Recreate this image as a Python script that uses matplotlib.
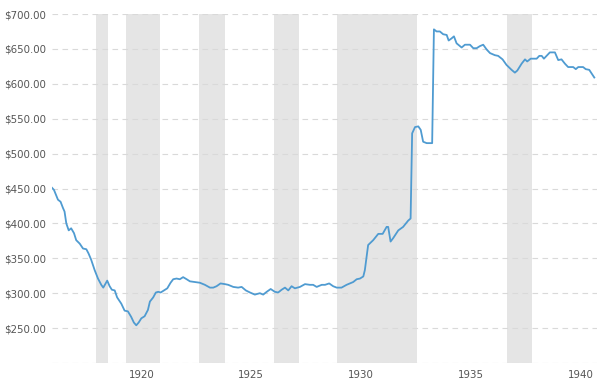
import matplotlib
matplotlib.use("Agg")
import matplotlib.pyplot as plt
from matplotlib.ticker import FixedLocator

# Decimal-year dates and inflation-adjusted gold price (USD/oz)
dates = [1916.64, 1916.73, 1916.91, 1917.03, 1917.14, 1917.21, 1917.29, 1917.40, 1917.51, 1917.64,
         1917.74, 1917.90, 1918.05, 1918.20, 1918.30, 1918.42, 1918.58, 1918.73, 1918.88, 1918.97,
         1919.06, 1919.15, 1919.26, 1919.36, 1919.49, 1919.60, 1919.79, 1919.94, 1920.09, 1920.24,
         1920.36, 1920.47, 1920.58, 1920.70, 1920.85, 1921.00, 1921.09, 1921.24, 1921.36, 1921.47,
         1921.58, 1921.73, 1921.88, 1922.03, 1922.15, 1922.30, 1922.45, 1922.60, 1922.76, 1922.91,
         1923.14, 1923.36, 1923.59, 1923.82, 1923.97, 1924.12, 1924.30, 1924.50, 1924.65, 1924.88,
         1925.10, 1925.26, 1925.45, 1925.64, 1925.86, 1926.09, 1926.24, 1926.40, 1926.58, 1926.77,
         1926.92, 1927.08, 1927.23, 1927.38, 1927.53, 1927.68, 1927.91, 1928.14, 1928.36, 1928.51,
         1928.67, 1928.90, 1929.05, 1929.24, 1929.42, 1929.58, 1929.80, 1930.03, 1930.18, 1930.33,
         1930.49, 1930.64, 1930.79, 1930.86, 1931.01, 1931.24, 1931.47, 1931.67, 1931.85, 1931.92,
         1932.03, 1932.15, 1932.38, 1932.60, 1932.83, 1932.94, 1933.01, 1933.14, 1933.29, 1933.40,
         1933.51, 1933.67, 1933.92, 1934.00, 1934.12, 1934.27, 1934.42, 1934.58, 1934.67, 1934.80,
         1934.91, 1935.03, 1935.26, 1935.41, 1935.64, 1935.79, 1935.94, 1936.09, 1936.24, 1936.40,
         1936.55, 1936.77, 1936.92, 1937.12, 1937.30, 1937.53, 1937.68, 1937.79, 1937.99, 1938.14,
         1938.24, 1938.40, 1938.67, 1938.79, 1938.90, 1939.00, 1939.12, 1939.27, 1939.50, 1939.65,
         1939.80, 1939.95, 1940.10, 1940.33, 1940.45, 1940.56, 1940.78, 1940.90, 1941.06, 1941.21,
         1941.29]
prices = [451, 448, 434, 431, 422, 417, 400, 390, 393, 386,
          376, 371, 364, 363, 357, 348, 333, 321, 312, 308,
          313, 318, 310, 305, 304, 294, 285, 275, 274, 266,
          258, 254, 258, 264, 267, 276, 288, 294, 301, 302,
          301, 304, 307, 315, 320, 321, 320, 323, 320, 317,
          316, 315, 312, 308, 308, 310, 314, 313, 312, 309,
          308, 309, 304, 301, 298, 300, 298, 302, 306, 302,
          301, 305, 308, 304, 310, 307, 309, 313, 312, 312,
          309, 312, 312, 314, 310, 308, 308, 312, 314, 316,
          320, 321, 324, 333, 369, 376, 385, 385, 395, 395,
          374, 379, 390, 395, 404, 407, 529, 538, 539, 534,
          517, 515, 515, 678, 675, 675, 671, 670, 662, 665,
          668, 658, 652, 656, 656, 651, 651, 654, 656, 649,
          644, 641, 640, 635, 627, 620, 616, 619, 629, 635,
          632, 636, 636, 640, 640, 636, 640, 645, 645, 634,
          635, 629, 624, 624, 621, 624, 624, 621, 620, 613,
          609]

# NBER recessions (start, end) in decimal years
recession_starts = [1918.62, 1920.00, 1923.33, 1926.75, 1929.58, 1937.33]
recession_ends = [1919.20, 1921.53, 1924.52, 1927.87, 1933.21, 1938.44]

y_ticks = [250, 300, 350, 400, 450, 500, 550, 600, 650, 700]
x_tick_years = [1920, 1925, 1930, 1935, 1940]

fig = plt.figure(figsize=(6.0, 3.82), dpi=100)
ax = fig.add_axes([52 / 600, 19 / 382, 545 / 600, 349 / 382])

for s, e in zip(recession_starts, recession_ends):
    ax.axvspan(s, e, color="#e5e5e5", lw=0, zorder=0)

ax.plot(dates, prices, color="#4f9bd1", lw=1.3, zorder=3, solid_joinstyle="round")

ax.set_xlim(1916.64, 1916.64 + 545 / 22)
ax.set_ylim(200, 700)

ax.yaxis.set_major_locator(FixedLocator([200] + y_ticks))
ax.set_yticklabels([""] + [f"${v:.2f}" for v in y_ticks])
ax.set_xticks([y + 0.7 for y in x_tick_years])
ax.set_xticklabels([str(y) for y in x_tick_years])

ax.grid(axis="y", color="#d9d9d9", linestyle=(0, (5, 4)), lw=0.8, zorder=1)
ax.grid(axis="x", visible=False)
for sp in ax.spines.values():
    sp.set_visible(False)
ax.tick_params(axis="both", length=0, labelsize=7.4, colors="#555555")
ax.tick_params(axis="y", pad=4)
ax.tick_params(axis="x", pad=5)

fig.savefig("out.png", dpi=100)
